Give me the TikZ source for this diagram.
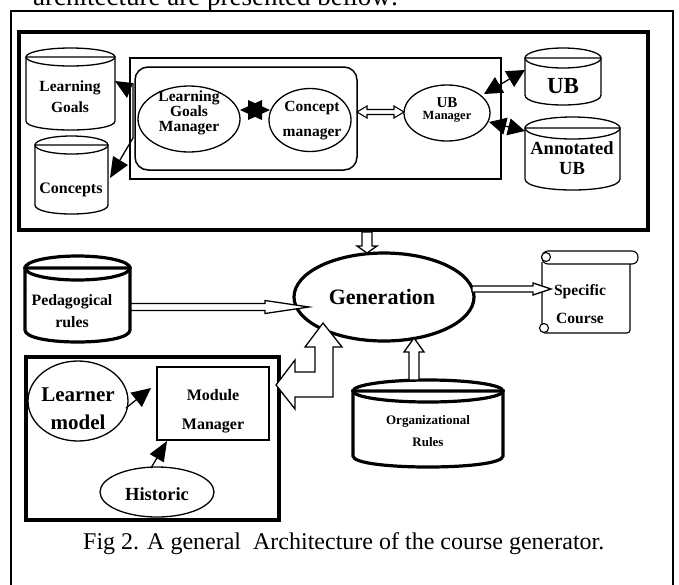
\documentclass[tikz,border=0pt]{standalone}
\usepackage{fontspec}
\setmainfont{Liberation Serif}
\usetikzlibrary{arrows.meta,calc,shapes.geometric}
\newcommand\mybf[2]{\fontsize{#1pt}{#2pt}\selectfont\bfseries}
\newcommand\drum[6][]{%
  \filldraw[fill=white,#1] (#2,#3+#6) -- (#2,#5-#6) .. controls (#2,#5+#6/3) and (#4,#5+#6/3) .. (#4,#5-#6) -- (#4,#3+#6) -- cycle;
  \draw[#1] ({(#2+#4)/2},#3+#6) ellipse[x radius={(#4-#2)/2}, y radius=#6];
}
\newcommand\hollowarr[5]{%
  \coordinate (ha-h) at ($(#2)!#5!(#1)$);
  \filldraw[hollow] ($(#1)!#3!90:(#2)$) -- ($(ha-h)!#3!90:(#2)$) -- ($(ha-h)!#4!90:(#2)$) -- (#2)
    -- ($(ha-h)!#4!-90:(#2)$) -- ($(ha-h)!#3!-90:(#2)$) -- ($(#1)!#3!-90:(#2)$) -- cycle;
}
\begin{document}
\begin{tikzpicture}[x=1pt,y=-1pt,
  thinln/.style={line width=1.3pt},
  thickln/.style={line width=3.2pt},
  frame/.style={line width=4.8pt},
  hollow/.style={draw,line width=1.3pt,fill=white,line join=miter},
  lbl/.style={align=center,inner sep=0pt},
  oval/.style={ellipse,draw,thinln,inner sep=0pt},
  scrollln/.style={double,double distance=1.2pt,line width=1.1pt}]
\useasboundingbox (0,0) rectangle (679,584);
\clip (0,0) rectangle (679,584);
\fill[white] (0,0) rectangle (679,584);

% running text cut at the top
\node[anchor=base west,inner sep=0pt,font=\fontsize{27pt}{30pt}\selectfont] (intro) at (33,5) {architecture are presented bellow:};

% outer frame
\draw[line width=1.3pt] (11,600) -- (11,11) -- (673,11) -- (673,600);

% top block
\draw[frame] (19,32) rectangle (648,230);
\draw[line width=1.5pt] (130,58) rectangle (501,179);
\draw[line width=1.5pt,rounded corners=13pt] (135,67) rectangle (357,170);

\drum[thinln]{26}{48}{115}{130}{9}
\node[lbl,font=\mybf{15.5}{21}] (lg) at (70,97) {Learning\\Goals};
\drum[thinln]{35}{136}{108}{214}{9}
\node[lbl,font=\mybf{16}{18}] (cc) at (71,190) {Concepts};

\node[oval,minimum width=102pt,minimum height=66pt] (lgm) at (189,119) {};
\node[lbl,font=\mybf{15.5}{15}] (lgmt) at (189,113) {Learning\\Goals\\Manager};
\node[oval,minimum width=82pt,minimum height=63pt] (cm) at (310,120) {};
\node[lbl,font=\mybf{15.5}{25}] (cmt) at (312,121) {Concept\\manager};
\node[oval,minimum width=86pt,minimum height=56pt] (ubm) at (447,113) {};
\node[lbl] (ubmt) at (447,110) {\mybf{15}{17}UB\\\mybf{12.5}{17}Manager};

\drum[thinln]{525}{48}{601}{105}{10}
\node[lbl,font=\mybf{23}{24}] (ub) at (563,86) {UB};
\drum[thinln]{525}{117}{620}{190}{11}
\node[lbl,font=\mybf{18.5}{20}] (aub) at (572,158) {Annotated\\UB};

% left connectors
\coordinate (j1) at (133,83);
\coordinate (j2) at (133,138);
\coordinate (j3) at (120,160);
\draw[thinln] (j1) -- (j2) -- (j3);
\fill (115,81) -- (j1) -- (127,98) -- cycle;
\fill (113,156) -- (128,165) -- (110,178) -- cycle;

% star between managers
\coordinate (s1) at (240,110);
\coordinate (s2) at (270,110);
\fill (s1) -- (262,100) -- (262,120) -- cycle;
\fill (s2) -- (248,100) -- (248,120) -- cycle;

% double hollow arrow concept <-> UB manager
\filldraw[hollow,line width=1.1pt] (357,112) -- (367,106) -- (367,109.5) -- (394,109.5) -- (394,106) -- (404,112)
  -- (394,118) -- (394,114.5) -- (367,114.5) -- (367,118) -- cycle;

% UB manager arrows
\coordinate (u1) at (484,94);
\coordinate (u2) at (525,70);
\draw[thinln,{Triangle[length=18pt,width=18pt]}-{Triangle[length=18pt,width=18pt]}] (u1) -- (u2);
\coordinate (a1) at (489,122);
\coordinate (a2) at (525,131);
\draw[thinln,{Triangle[length=17pt,width=17pt]}-{Triangle[length=17pt,width=17pt]}] (a1) -- (a2);

% generation
\node[ellipse,draw,thickln,minimum width=180pt,minimum height=88pt,inner sep=0pt] (gen) at (384,297) {};
\node[lbl,font=\mybf{22}{24}] (gent) at (382,297) {Generation};

% down arrow from top block
\coordinate (d1) at (367,232);
\coordinate (d2) at (367,253);
\hollowarr{d1}{d2}{5pt}{10pt}{7pt}

% pedagogical rules
\drum[thickln]{25}{256}{130}{342}{12}
\node[lbl,font=\mybf{15.8}{22}] (ped) at (72,311) {Pedagogical\\rules};
\coordinate (p1) at (131,307);
\coordinate (p2) at (309,307);
\hollowarr{p1}{p2}{3.5pt}{6.5pt}{44pt}

% specific course scroll
\begin{scope}[scrollln]
  \draw[rounded corners=3pt] (542,262) -- (542,333) -- (630,333) -- (630,262);
  \draw[rounded corners=6pt,fill=white] (542,251) rectangle (638,264);
  \draw[fill=white] (546,257) circle[radius=4.5];
  \draw[fill=white] (544,328) circle[radius=4.5];
\end{scope}
\node[lbl,font=\mybf{15.6}{28}] (sc) at (580,304) {Specific\\Course};
\coordinate (g1) at (472,289);
\coordinate (g2) at (551,289);
\hollowarr{g1}{g2}{3pt}{6pt}{18pt}

% organizational rules
\drum[thickln]{353}{380}{503}{467}{11}
\node[lbl,font=\mybf{13}{22}] (org) at (428,431) {Organizational\\Rules};
\coordinate (o1) at (414,380);
\coordinate (o2) at (414,338);
\hollowarr{o1}{o2}{5pt}{10pt}{14pt}

% learner block
\draw[frame] (26,357) rectangle (279,520);
\node[oval,minimum width=100pt,minimum height=80pt] (lm) at (78,401) {};
\node[lbl,font=\mybf{21}{28}] (lmt) at (78,409) {Learner\\model};
\node[draw,line width=1.5pt,minimum width=112pt,minimum height=73pt,inner sep=0pt] (mm) at (213,403.5) {};
\node[lbl,font=\mybf{16}{29}] (mmt) at (213,411) {Module\\Manager};
\node[oval,minimum width=114pt,minimum height=50pt] (hi) at (157,492) {};
\node[lbl,font=\mybf{18.5}{20}] (hit) at (157,494) {Historic};
\draw[thinln,-{Triangle[length=19pt,width=18pt]}] (126,408) -- (151,388);
\draw[thinln,-{Triangle[length=20pt,width=16pt]}] (151,468) -- (167,441);

% bent double arrow learner block <-> generation
\filldraw[hollow] (276,385) -- (295,360) -- (295,372) -- (315,372) -- (315,347) -- (305,347) -- (323,323)
  -- (342,347) -- (333,347) -- (333,397) -- (295,397) -- (295,409) -- cycle;

% caption
\node[anchor=base west,inner sep=0pt,font=\fontsize{24pt}{26pt}\selectfont] (cap) at (83,549) {Fig 2. A general~ Architecture of the course generator.};
\end{tikzpicture}
\end{document}
